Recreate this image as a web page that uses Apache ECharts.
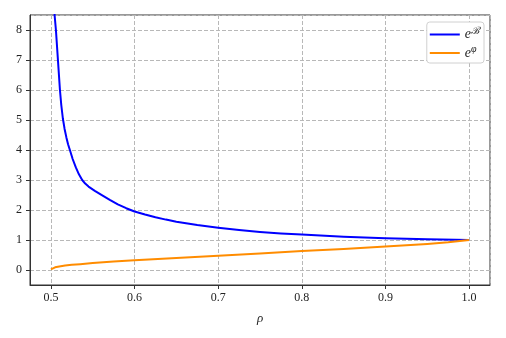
<!DOCTYPE html>
<html lang="en">
<head>
    <meta charset="UTF-8">
    <title>e^B and e^phi vs rho</title>
    <script src="https://cdn.jsdelivr.net/npm/echarts@6/dist/echarts.min.js"></script>
</head>
<body style="margin: 0">
<div id="main" style="width: 506px;height: 338px"></div>
</body>

<script>
    // values
    const rhoB = [0.503, 0.5044, 0.506, 0.5072, 0.5084, 0.5096, 0.5108, 0.5124, 0.5143, 0.5163, 0.5185, 0.5205, 0.5227,
        0.526, 0.5298, 0.5335, 0.5374, 0.541, 0.545, 0.5525, 0.5614, 0.5704, 0.58, 0.59, 0.6, 0.6125, 0.625, 0.6375,
        0.65, 0.675, 0.7, 0.725, 0.75, 0.775, 0.8, 0.85, 0.9, 0.95, 1.0];
    const valB = [10.5, 8.5, 8.0, 7.5, 7.0, 6.5, 6.0, 5.5, 5.05, 4.71, 4.42, 4.19, 4.0,
        3.70, 3.42, 3.19, 3.0, 2.88, 2.78, 2.64, 2.49, 2.34, 2.19, 2.06, 1.95, 1.85, 1.76, 1.68,
        1.61, 1.50, 1.41, 1.335, 1.27, 1.22, 1.18, 1.11, 1.06, 1.025, 1.0];

    const rhoPhi = [0.5, 0.5005, 0.502, 0.505, 0.51, 0.517, 0.525, 0.535, 0.55, 0.575, 0.6, 0.65, 0.7, 0.75, 0.8, 0.85, 0.9, 0.95, 0.975, 1.0];
    const valPhi = [0.02, 0.04, 0.065, 0.09, 0.12, 0.15, 0.175, 0.195, 0.23, 0.28, 0.325, 0.40, 0.475, 0.55, 0.63, 0.70, 0.78, 0.87, 0.925, 1.0];

    const chartDom = document.getElementById('main');
    const myChart = echarts.init(chartDom);

    const serif = 'Liberation Serif';
    const dataB = rhoB.map((r, i) => [r, valB[i]]);
    const dataPhi = rhoPhi.map((r, i) => [r, valPhi[i]]);

    const splitStyle = {
        show: true,
        lineStyle: {color: '#b8b8b8', type: [4, 2], width: 1}
    };

    let option = {
        animation: false,
        grid: {
            left: 30, right: 16, top: 15, bottom: 53,
            show: true, borderColor: '#333', borderWidth: 1
        },
        legend: {
            orient: 'vertical',
            right: 22, top: 22,
            backgroundColor: '#fff',
            borderColor: '#d0d0d0', borderWidth: 1, borderRadius: 3,
            padding: [4, 5, 3, 3],
            itemWidth: 30, itemHeight: 2, itemGap: 3,
            icon: 'rect',
            formatter: function (name) {
                return name === 'B' ? '{b|e}{s|\u212C}' : '{b|e}{s|\u03C6}';
            },
            textStyle: {
                rich: {
                    b: {fontFamily: serif, fontStyle: 'italic', fontSize: 14, color: '#222'},
                    s: {fontFamily: serif, fontStyle: 'italic', fontSize: 10, color: '#222', padding: [0, 0, 7, 0]}
                }
            },
            data: ['B', 'phi']
        },
        xAxis: {
            type: 'value',
            min: 0.475, max: 1.025,
            splitNumber: 5,
            name: 'ρ',
            nameLocation: 'middle',
            nameGap: 27,
            nameTextStyle: {fontFamily: serif, fontStyle: 'italic', fontSize: 13, color: '#222'},
            axisLine: {show: true, onZero: false, lineStyle: {color: '#333'}},
            axisTick: {show: true, length: 4, lineStyle: {color: '#333'}},
            axisLabel: {
                fontFamily: serif, fontSize: 12, color: '#222', margin: 7,
                showMinLabel: false, showMaxLabel: false,
                formatter: v => v.toFixed(1)
            },
            splitLine: splitStyle
        },
        yAxis: {
            type: 'value',
            min: -0.5, max: 8.5,
            splitNumber: 9,
            axisLine: {show: true, onZero: false, lineStyle: {color: '#333'}},
            axisTick: {show: true, length: 4, lineStyle: {color: '#333'}},
            axisLabel: {
                fontFamily: serif, fontSize: 12, color: '#222', margin: 8,
                showMinLabel: false, showMaxLabel: false
            },
            splitLine: splitStyle
        },
        series: [
            {
                name: 'B',
                type: 'line',
                data: dataB,
                showSymbol: false,
                clip: true,
                lineStyle: {color: '#0000ff', width: 2, join: 'round'},
                itemStyle: {color: '#0000ff'}
            },
            {
                name: 'phi',
                type: 'line',
                data: dataPhi,
                showSymbol: false,
                clip: true,
                lineStyle: {color: '#ff8c00', width: 2, join: 'round'},
                itemStyle: {color: '#ff8c00'}
            }
        ]
    };

    option && myChart.setOption(option);
</script>

</html>
